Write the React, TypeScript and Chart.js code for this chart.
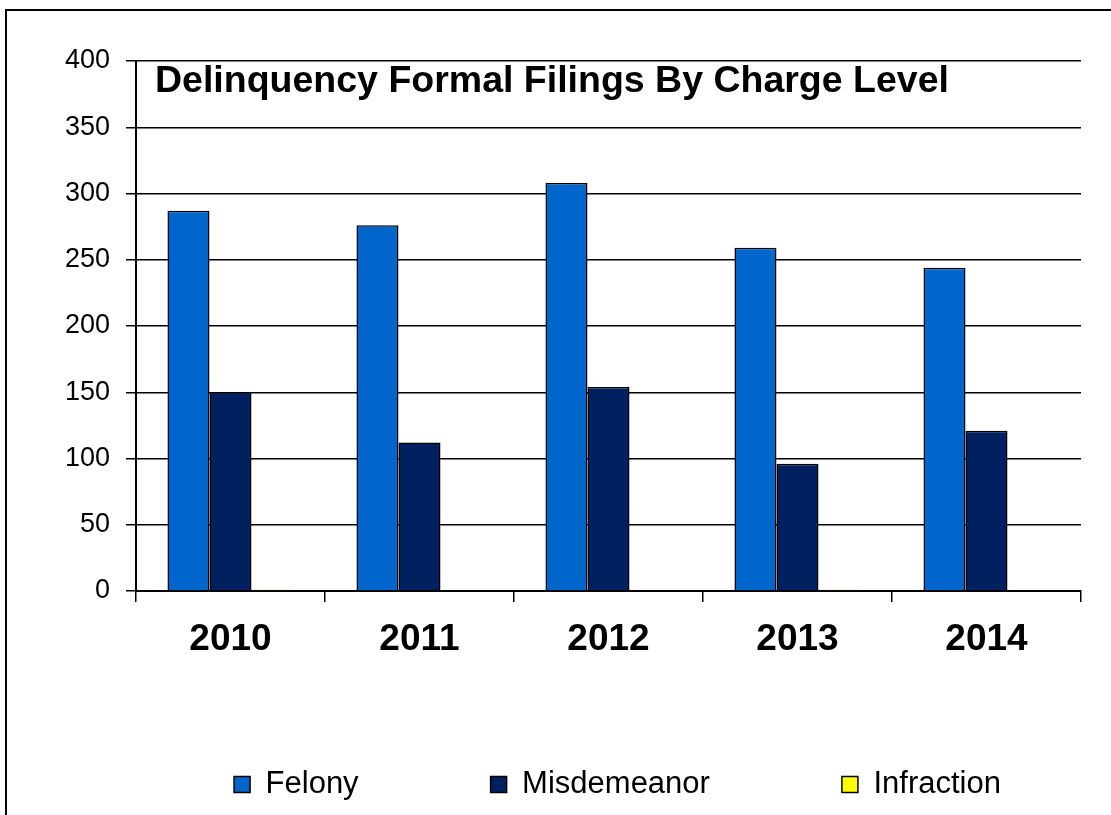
import { useEffect, useRef } from "react";
import { Chart, registerables } from "chart.js";

Chart.register(...registerables);

const categories = ["2010", "2011", "2012", "2013", "2014"];
const felony = [287, 276, 308, 259, 244];
const misdemeanor = [150, 112, 154, 96, 121];
const infraction = [1, 0, 0, 1, 0];
const seriesNames = ["Felony", "Misdemeanor", "Infraction"];
const seriesColors = ["#0066CC", "#002060", "#FFFF00"];
const yMin = 0;
const yMax = 400;
const yStep = 50;
const chartTitle = "Delinquency Formal Filings By Charge Level";

const FONT = "'Liberation Sans', Arial, Helvetica, sans-serif";

const framePlugin = {
  id: "frameAndTitle",
  beforeDraw(chart: any) {
    const ctx = chart.ctx;
    ctx.save();
    ctx.fillStyle = "#ffffff";
    ctx.fillRect(0, 0, chart.width, chart.height);
    ctx.strokeStyle = "#000000";
    ctx.lineWidth = 2;
    ctx.strokeRect(6, 10, chart.width + 40, chart.height + 40);
    ctx.restore();
  },
  afterLayout(chart: any) {
    const lg = chart.legend;
    if (lg) {
      lg.left += 77;
      lg.right += 77;
      lg.top -= 20;
      lg.bottom = chart.height;
    }
  },
  afterDraw(chart: any) {
    const { ctx, chartArea } = chart;
    ctx.save();
    ctx.font = `bold 37.5px ${FONT}`;
    ctx.fillStyle = "#000000";
    ctx.textAlign = "left";
    ctx.textBaseline = "alphabetic";
    ctx.fillText(chartTitle, chartArea.left + 19, chartArea.top + 31);
    ctx.restore();
  },
};

export default function App() {
  const canvasRef = useRef<HTMLCanvasElement | null>(null);

  useEffect(() => {
    if (!canvasRef.current) return;
    const values = [felony, misdemeanor, infraction];
    const chart = new Chart(canvasRef.current, {
      type: "bar",
      data: {
        labels: categories,
        datasets: values.map((v, i) => ({
          label: seriesNames[i],
          data: v,
          backgroundColor: seriesColors[i],
          borderColor: "#000000",
          borderWidth: 1.5,
          categoryPercentage: 0.667,
          barPercentage: 1,
        })),
      },
      options: {
        responsive: false,
        animation: false,
        layout: { padding: { left: 0, right: 30, top: 61, bottom: 0 } },
        plugins: {
          title: { display: false },
          tooltip: { enabled: false },
          legend: {
            display: true,
            position: "bottom",
            fullSize: true,
            maxHeight: 158,
            labels: {
              boxWidth: 16,
              boxHeight: 16,
              padding: 132,
              color: "#000000",
              font: { family: FONT, size: 31 },
            },
          },
        },
        scales: {
          x: {
            offset: true,
            grid: {
              offset: true,
              drawOnChartArea: false,
              drawTicks: true,
              tickLength: 11,
              color: "#000000",
              lineWidth: 1.5,
            },
            border: { display: true, color: "#000000", width: 2 },
            ticks: {
              color: "#000000",
              padding: 16,
              font: { family: FONT, size: 37, weight: "bold" },
              maxRotation: 0,
            },
            afterFit(scale: any) {
              scale.height = 66;
            },
          },
          y: {
            min: yMin,
            max: yMax,
            grid: {
              color: "#000000",
              lineWidth: 1.5,
              drawTicks: true,
              tickLength: 10,
            },
            border: { display: true, color: "#000000", width: 2 },
            ticks: {
              stepSize: yStep,
              color: "#000000",
              padding: 16,
              font: { family: FONT, size: 27 },
            },
            afterFit(scale: any) {
              scale.width = 136;
            },
          },
        },
      },
      plugins: [framePlugin],
    } as any);
    return () => chart.destroy();
  }, []);

  return (
    <div style={{ position: "fixed", left: 0, top: 0, width: 1111, height: 815, background: "#fff" }}>
      <canvas ref={canvasRef} width={1111} height={815} style={{ display: "block" }} />
    </div>
  );
}
